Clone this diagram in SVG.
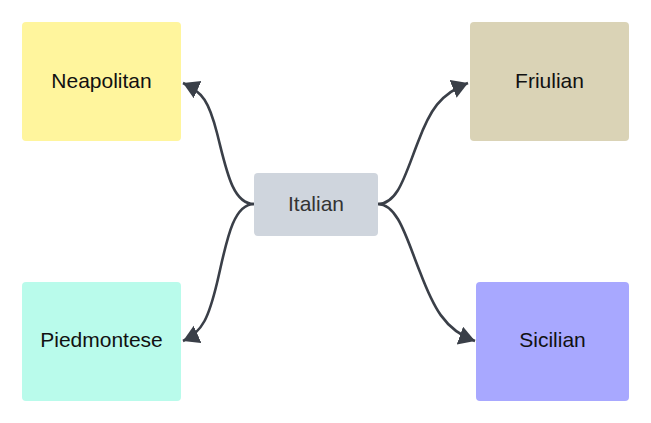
<svg xmlns="http://www.w3.org/2000/svg" width="651" height="423" viewBox="0 0 651 423">
<style>
.box{stroke:none}
.lbl{font-family:"Liberation Sans",Arial,sans-serif;font-size:21px;text-anchor:middle;fill:#111}
.edge{fill:none;stroke:#3a3f48;stroke-width:2.6}
</style>
<defs>
<marker id="ah" markerUnits="userSpaceOnUse" markerWidth="18" markerHeight="20" refX="16" refY="9.5" orient="auto">
<path d="M0,0 L16,9.5 L0,19 z" fill="#3a3f48"/>
</marker>
</defs>
<rect width="651" height="423" fill="#fff"/>
<g id="connectors">
<path class="edge" marker-end="url(#ah)" d="M254,204 C232,204 226,168 217,133 C209,102 203,92 183,83"/>
<path class="edge" marker-end="url(#ah)" d="M254,204 C232,204 226,245 217,283 C209,316 203,332 183,341"/>
<path class="edge" marker-end="url(#ah)" d="M378,204 C398,204 405,175 418,142 C430,110 440,94 468,83"/>
<path class="edge" marker-end="url(#ah)" d="M378,204 C398,204 407,240 420,272 C433,306 444,330 475,341"/>
</g>
<g id="italian">
<rect class="box" x="254" y="173" width="124" height="63" rx="4" fill="#cfd5dd"/>
<text class="lbl" x="316" y="211" style="fill:#333">Italian</text>
</g>
<g id="neapolitan">
<rect class="box" x="22" y="22" width="159" height="119" rx="4" fill="#fff59d"/>
<text class="lbl" x="101.5" y="88">Neapolitan</text>
</g>
<g id="friulian">
<rect class="box" x="470" y="22" width="159" height="119" rx="4" fill="#dad3b6"/>
<text class="lbl" x="549.5" y="88">Friulian</text>
</g>
<g id="piedmontese">
<rect class="box" x="22" y="282" width="159" height="119" rx="4" fill="#b9fbeb"/>
<text class="lbl" x="101.5" y="347">Piedmontese</text>
</g>
<g id="sicilian">
<rect class="box" x="476" y="282" width="153" height="119" rx="4" fill="#a8a8ff"/>
<text class="lbl" x="552.5" y="347">Sicilian</text>
</g>
</svg>
